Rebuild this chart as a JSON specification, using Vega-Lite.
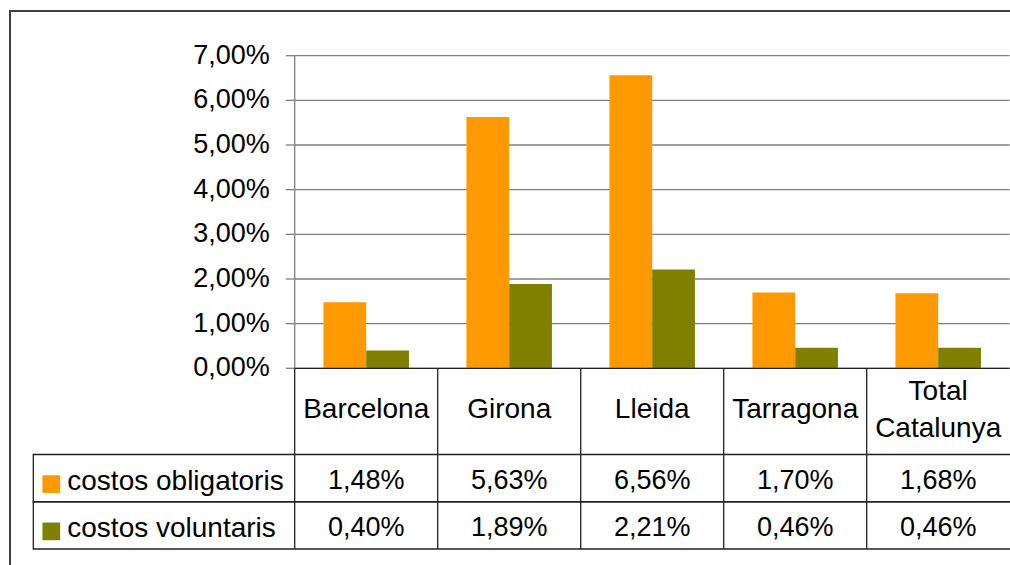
{
  "$schema": "https://vega.github.io/schema/vega-lite/v6.json",
  "width": 1002,
  "height": 560,
  "autosize": {"type": "none"},
  "padding": {"left": 10, "top": 11, "right": -2, "bottom": -6},
  "background": "white",
  "config": {
    "view": {"stroke": "#404040", "strokeWidth": 2},
    "font": "Liberation Sans",
    "locale": {"number": {"decimal": ",", "thousands": ".", "grouping": [3], "currency": ["", " €"]}}
  },
  "datasets": {
    "main": [
      {"cat": "Barcelona", "series": "costos obligatoris", "value": 0.0148},
      {"cat": "Girona", "series": "costos obligatoris", "value": 0.0563},
      {"cat": "Lleida", "series": "costos obligatoris", "value": 0.0656},
      {"cat": "Tarragona", "series": "costos obligatoris", "value": 0.0170},
      {"cat": "Total Catalunya", "series": "costos obligatoris", "value": 0.0168},
      {"cat": "Barcelona", "series": "costos voluntaris", "value": 0.0040},
      {"cat": "Girona", "series": "costos voluntaris", "value": 0.0189},
      {"cat": "Lleida", "series": "costos voluntaris", "value": 0.0221},
      {"cat": "Tarragona", "series": "costos voluntaris", "value": 0.0046},
      {"cat": "Total Catalunya", "series": "costos voluntaris", "value": 0.0046}
    ],
    "ticks": [{"g": 0}, {"g": 0.01}, {"g": 0.02}, {"g": 0.03}, {"g": 0.04}, {"g": 0.05}, {"g": 0.06}, {"g": 0.07}],
    "one": [{"k": 1}]
  },
  "data": {"name": "main"},
  "resolve": {"scale": {"x": "independent", "y": "independent"}},
  "layer": [
    {
      "layer": [
        {
          "data": {"name": "ticks"},
          "mark": {"type": "rule", "color": "#808080", "strokeWidth": 1.3},
          "encoding": {
            "x": {"datum": "Barcelona", "type": "nominal", "bandPosition": 0, "axis": null,
              "scale": {"domain": ["Barcelona", "Girona", "Lleida", "Tarragona", "Total Catalunya"], "range": [284.7, 999.7], "paddingInner": 0, "paddingOuter": 0}},
            "x2": {"datum": "Total Catalunya", "bandPosition": 1},
            "y": {"field": "g", "type": "quantitative", "axis": null,
              "scale": {"domain": [0, 0.07], "range": [357.3, 44.7], "zero": false, "nice": false}}
          }
        },
        {
          "data": {"name": "ticks"},
          "mark": {"type": "rule", "color": "#808080", "strokeWidth": 1.3, "xOffset": -9},
          "encoding": {
            "x": {"datum": "Barcelona", "type": "nominal", "bandPosition": 0, "axis": null,
              "scale": {"domain": ["Barcelona", "Girona", "Lleida", "Tarragona", "Total Catalunya"], "range": [284.7, 999.7], "paddingInner": 0, "paddingOuter": 0}},
            "x2": {"datum": "Barcelona", "bandPosition": 0},
            "y": {"field": "g", "type": "quantitative", "axis": null,
              "scale": {"domain": [0, 0.07], "range": [357.3, 44.7], "zero": false, "nice": false}}
          }
        },
        {
          "data": {"name": "ticks"},
          "mark": {"type": "text", "align": "right", "baseline": "middle", "dx": -25, "fontSize": 27, "font": "Liberation Sans", "color": "black"},
          "encoding": {
            "x": {"datum": "Barcelona", "type": "nominal", "bandPosition": 0, "axis": null,
              "scale": {"domain": ["Barcelona", "Girona", "Lleida", "Tarragona", "Total Catalunya"], "range": [284.7, 999.7], "paddingInner": 0, "paddingOuter": 0}},
            "y": {"field": "g", "type": "quantitative", "axis": null,
              "scale": {"domain": [0, 0.07], "range": [357.3, 44.7], "zero": false, "nice": false}},
            "text": {"field": "g", "type": "quantitative", "format": ".2%"}
          }
        },
        {
          "data": {"name": "one"},
          "mark": {"type": "rule", "color": "#808080", "strokeWidth": 1.3},
          "encoding": {
            "x": {"datum": "Barcelona", "type": "nominal", "bandPosition": 0, "axis": null,
              "scale": {"domain": ["Barcelona", "Girona", "Lleida", "Tarragona", "Total Catalunya"], "range": [284.7, 999.7], "paddingInner": 0, "paddingOuter": 0}},
            "y": {"datum": 0, "type": "quantitative", "axis": null,
              "scale": {"domain": [0, 0.07], "range": [357.3, 44.7], "zero": false, "nice": false}},
            "y2": {"datum": 0.07}
          }
        },
        {
          "mark": {"type": "bar"},
          "encoding": {
            "x": {"field": "cat", "type": "nominal", "axis": null,
              "scale": {"domain": ["Barcelona", "Girona", "Lleida", "Tarragona", "Total Catalunya"], "range": [284.7, 999.7], "paddingInner": 0, "paddingOuter": 0}},
            "xOffset": {"field": "series", "type": "nominal",
              "scale": {"domain": ["costos obligatoris", "costos voluntaris"], "paddingInner": 0, "paddingOuter": 0.672}},
            "y": {"field": "value", "type": "quantitative", "stack": null, "axis": null,
              "scale": {"domain": [0, 0.07], "range": [357.3, 44.7], "zero": false, "nice": false}},
            "color": {"field": "series", "type": "nominal", "legend": null,
              "scale": {"domain": ["costos obligatoris", "costos voluntaris"], "range": ["#FF9900", "#808000"]}}
          }
        },
        {
          "data": {"name": "one"},
          "mark": {"type": "rule", "color": "#222222", "strokeWidth": 1.3},
          "encoding": {
            "x": {"datum": "Barcelona", "type": "nominal", "bandPosition": 0, "axis": null,
              "scale": {"domain": ["Barcelona", "Girona", "Lleida", "Tarragona", "Total Catalunya"], "range": [284.7, 999.7], "paddingInner": 0, "paddingOuter": 0}},
            "x2": {"datum": "Total Catalunya", "bandPosition": 1},
            "y": {"datum": 0, "type": "quantitative", "axis": null,
              "scale": {"domain": [0, 0.07], "range": [357.3, 44.7], "zero": false, "nice": false}}
          }
        }
      ]
    },
    {
      "transform": [{"filter": "datum.series == 'costos obligatoris'"}],
      "layer": [
        {
          "mark": {"type": "rule", "color": "#222222", "strokeWidth": 1.3},
          "encoding": {
            "x": {"field": "cat", "type": "nominal", "bandPosition": 0, "axis": null,
              "scale": {"domain": ["Barcelona", "Girona", "Lleida", "Tarragona", "Total Catalunya"], "range": [284.7, 999.7], "paddingInner": 0, "paddingOuter": 0}},
            "y": {"datum": "hdr", "type": "nominal", "bandPosition": 0, "axis": null,
              "scale": {"domain": ["hdr"], "range": [357.3, 443.5], "paddingInner": 0, "paddingOuter": 0}},
            "y2": {"datum": "hdr", "bandPosition": 1}
          }
        },
        {
          "transform": [{"filter": "datum.cat != 'Total Catalunya'"}],
          "mark": {"type": "text", "baseline": "middle", "dy": -1, "fontSize": 28, "font": "Liberation Sans", "color": "black"},
          "encoding": {
            "x": {"field": "cat", "type": "nominal", "axis": null,
              "scale": {"domain": ["Barcelona", "Girona", "Lleida", "Tarragona", "Total Catalunya"], "range": [284.7, 999.7], "paddingInner": 0, "paddingOuter": 0}},
            "y": {"datum": "hdr", "type": "nominal", "axis": null,
              "scale": {"domain": ["hdr"], "range": [357.3, 443.5], "paddingInner": 0, "paddingOuter": 0}},
            "text": {"field": "cat", "type": "nominal"}
          }
        },
        {
          "transform": [{"filter": "datum.cat == 'Total Catalunya'"}],
          "mark": {"type": "text", "baseline": "middle", "lineBreak": " ", "lineHeight": 37, "dy": -19.5, "fontSize": 28, "font": "Liberation Sans", "color": "black"},
          "encoding": {
            "x": {"field": "cat", "type": "nominal", "axis": null,
              "scale": {"domain": ["Barcelona", "Girona", "Lleida", "Tarragona", "Total Catalunya"], "range": [284.7, 999.7], "paddingInner": 0, "paddingOuter": 0}},
            "y": {"datum": "hdr", "type": "nominal", "axis": null,
              "scale": {"domain": ["hdr"], "range": [357.3, 443.5], "paddingInner": 0, "paddingOuter": 0}},
            "text": {"field": "cat", "type": "nominal"}
          }
        }
      ]
    },
    {
      "layer": [
        {
          "transform": [{"filter": "datum.series == 'costos obligatoris'"}],
          "mark": {"type": "rule", "color": "#222222", "strokeWidth": 1.3},
          "encoding": {
            "x": {"field": "cat", "type": "nominal", "bandPosition": 0, "axis": null,
              "scale": {"domain": ["Barcelona", "Girona", "Lleida", "Tarragona", "Total Catalunya"], "range": [284.7, 999.7], "paddingInner": 0, "paddingOuter": 0}},
            "y": {"datum": "costos obligatoris", "type": "nominal", "bandPosition": 0, "axis": null,
              "scale": {"domain": ["costos obligatoris", "costos voluntaris"], "range": [443.5, 538], "paddingInner": 0, "paddingOuter": 0}},
            "y2": {"datum": "costos voluntaris", "bandPosition": 1}
          }
        },
        {
          "mark": {"type": "text", "baseline": "middle", "dy": 3, "fontSize": 27, "font": "Liberation Sans", "color": "black"},
          "encoding": {
            "x": {"field": "cat", "type": "nominal", "axis": null,
              "scale": {"domain": ["Barcelona", "Girona", "Lleida", "Tarragona", "Total Catalunya"], "range": [284.7, 999.7], "paddingInner": 0, "paddingOuter": 0}},
            "y": {"field": "series", "type": "nominal", "axis": null,
              "scale": {"domain": ["costos obligatoris", "costos voluntaris"], "range": [443.5, 538], "paddingInner": 0, "paddingOuter": 0}},
            "text": {"field": "value", "type": "quantitative", "format": ".2%"}
          }
        }
      ]
    },
    {
      "transform": [{"filter": "datum.cat == 'Barcelona'"}],
      "layer": [
        {
          "mark": {"type": "rect", "fillOpacity": 0, "stroke": "#222222", "strokeWidth": 1.3},
          "encoding": {
            "x": {"datum": "lbl", "type": "nominal", "axis": null,
              "scale": {"domain": ["lbl"], "range": [23.3, 1003], "paddingInner": 0, "paddingOuter": 0}},
            "y": {"field": "series", "type": "nominal", "axis": null,
              "scale": {"domain": ["costos obligatoris", "costos voluntaris"], "range": [443.5, 538], "paddingInner": 0, "paddingOuter": 0}}
          }
        },
        {
          "mark": {"type": "point", "shape": "square", "filled": true, "size": 313, "opacity": 1, "strokeWidth": 0, "xOffset": 18, "yOffset": 6},
          "encoding": {
            "x": {"datum": "lbl", "type": "nominal", "bandPosition": 0, "axis": null,
              "scale": {"domain": ["lbl"], "range": [23.3, 1003], "paddingInner": 0, "paddingOuter": 0}},
            "y": {"field": "series", "type": "nominal", "axis": null,
              "scale": {"domain": ["costos obligatoris", "costos voluntaris"], "range": [443.5, 538], "paddingInner": 0, "paddingOuter": 0}},
            "color": {"field": "series", "type": "nominal", "legend": null,
              "scale": {"domain": ["costos obligatoris", "costos voluntaris"], "range": ["#FF9900", "#808000"]}}
          }
        },
        {
          "mark": {"type": "text", "align": "left", "baseline": "middle", "dx": 34, "dy": 3.5, "fontSize": 28, "font": "Liberation Sans", "color": "black"},
          "encoding": {
            "x": {"datum": "lbl", "type": "nominal", "bandPosition": 0, "axis": null,
              "scale": {"domain": ["lbl"], "range": [23.3, 1003], "paddingInner": 0, "paddingOuter": 0}},
            "y": {"field": "series", "type": "nominal", "axis": null,
              "scale": {"domain": ["costos obligatoris", "costos voluntaris"], "range": [443.5, 538], "paddingInner": 0, "paddingOuter": 0}},
            "text": {"field": "series", "type": "nominal"}
          }
        }
      ]
    }
  ]
}
